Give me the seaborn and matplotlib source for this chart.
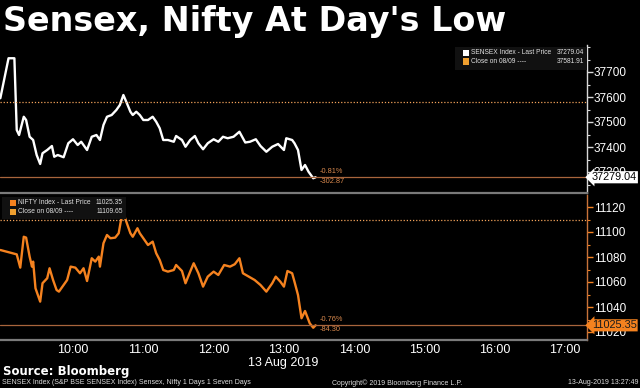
import matplotlib
matplotlib.use("Agg")
import matplotlib.pyplot as plt
import matplotlib.transforms as mtransforms
from matplotlib.ticker import MultipleLocator, FixedLocator
import seaborn as sns
import pandas as pd

# Sensex intraday
sensex_times = [
    "08:58", "09:05", "09:10", "09:12", "09:14", "09:18", "09:20", "09:23", "09:26", "09:29",
    "09:32", "09:34", "09:38", "09:42", "09:44", "09:47", "09:52", "09:56", "10:00", "10:04",
    "10:07", "10:12", "10:16", "10:20", "10:23", "10:26", "10:29", "10:33", "10:37", "10:40",
    "10:43", "10:46", "10:49", "10:51", "10:54", "10:57", "11:00", "11:04", "11:08", "11:11",
    "11:14", "11:17", "11:21", "11:26", "11:28", "11:33", "11:36", "11:40", "11:44", "11:47",
    "11:51", "11:55", "12:00", "12:04", "12:08", "12:12", "12:17", "12:22", "12:27", "12:31",
    "12:36", "12:40", "12:45", "12:50", "12:55", "13:00", "13:02", "13:07", "13:09", "13:12",
    "13:15", "13:18", "13:21", "13:25", "13:27",
]
sensex_values = [
    37595, 37755, 37755, 37468, 37448, 37521, 37508, 37441, 37428, 37368,
    37332, 37375, 37388, 37404, 37361, 37368, 37359, 37415, 37431, 37408,
    37421, 37388, 37441, 37448, 37428, 37488, 37521, 37528, 37548, 37568,
    37608, 37575, 37541, 37528, 37541, 37528, 37508, 37508, 37521, 37501,
    37475, 37428, 37428, 37421, 37444, 37428, 37401, 37428, 37444, 37415,
    37391, 37415, 37431, 37421, 37441, 37435, 37441, 37461, 37418, 37421,
    37431, 37404, 37381, 37401, 37412, 37388, 37435, 37428, 37415, 37388,
    37308, 37328, 37301, 37275, 37279.04,
]
sensex_last = 37279.04
sensex_prev_close = 37581.91
sensex_chg = ["-0.81%", "-302.87"]

# Nifty intraday
nifty_times = [
    "08:58", "09:12", "09:15", "09:18", "09:20", "09:23", "09:25", "09:26", "09:28", "09:32",
    "09:34", "09:38", "09:40", "09:43", "09:46", "09:48", "09:52", "09:55", "09:58", "10:02",
    "10:06", "10:09", "10:12", "10:16", "10:19", "10:22", "10:23", "10:26", "10:29", "10:32",
    "10:36", "10:39", "10:41", "10:43", "10:45", "10:49", "10:51", "10:55", "10:57", "11:00",
    "11:04", "11:08", "11:11", "11:14", "11:17", "11:21", "11:26", "11:28", "11:33", "11:36",
    "11:40", "11:43", "11:47", "11:51", "11:55", "12:00", "12:04", "12:09", "12:14", "12:18",
    "12:22", "12:25", "12:30", "12:35", "12:40", "12:45", "12:50", "12:53", "12:57", "13:00",
    "13:03", "13:07", "13:09", "13:12", "13:15", "13:18", "13:22", "13:25", "13:27",
]
nifty_values = [
    11085.6, 11082.1, 11071.5, 11096.2, 11095.5, 11080.3, 11072.3, 11076.3, 11055.0, 11044.3,
    11059.0, 11063.0, 11071.0, 11061.6, 11053.6, 11052.3, 11057.6, 11061.6, 11072.3, 11071.5,
    11067.0, 11071.0, 11060.8, 11079.0, 11076.3, 11080.3, 11072.3, 11091.0, 11097.6, 11095.0,
    11095.5, 11099.0, 11109.6, 11115.0, 11109.6, 11099.0, 11096.2, 11103.0, 11099.0, 11095.0,
    11089.6, 11092.3, 11083.0, 11077.6, 11069.6, 11068.3, 11069.6, 11073.6, 11068.8, 11059.0,
    11068.3, 11075.0, 11067.0, 11056.3, 11064.3, 11068.3, 11065.6, 11073.6, 11072.3, 11074.2,
    11079.0, 11067.0, 11064.3, 11061.6, 11057.6, 11052.3, 11059.0, 11064.3, 11060.2, 11056.3,
    11068.8, 11067.0, 11060.2, 11049.6, 11031.0, 11036.8, 11027.0, 11023.4, 11025.35,
]
nifty_last = 11025.35
nifty_prev_close = 11109.65
nifty_chg = ["-0.76%", "-84.30"]

hour_ticks = [10, 11, 12, 13, 14, 15, 16, 17]
hour_labels = ["10:00", "11:00", "12:00", "13:00", "14:00", "15:00", "16:00", "17:00"]


def to_hours(times):
    return pd.to_timedelta([t + ":00" for t in times]) / pd.Timedelta(hours=1)


sensex_df = pd.DataFrame({"hour": to_hours(sensex_times), "price": sensex_values})
nifty_df = pd.DataFrame({"hour": to_hours(nifty_times), "price": nifty_values})

sns.set_style("dark", {"axes.facecolor": "black", "figure.facecolor": "black"})
plt.rcParams["font.family"] = ["Liberation Sans", "DejaVu Sans"]

W, H = 640, 388
fig = plt.figure(figsize=(W / 100, H / 100), dpi=100, facecolor="black")
ax1 = fig.add_axes([0, 1 - 193 / H, 587 / W, (193 - 45) / H])
ax2 = fig.add_axes([0, 1 - 340 / H, 587 / W, (340 - 195) / H])

XMIN, XMAX = 8.962, 17.31
ORANGE = "#f5821f"
LAST_LINE = "#a8653c"
PREV_LINE = "#f2a25a"


def style_axis(ax, spine_color, tick_color):
    ax.set_facecolor("black")
    ax.grid(False)
    for s in ["left", "top"]:
        ax.spines[s].set_visible(False)
    ax.spines["right"].set_color(spine_color)
    ax.spines["right"].set_linewidth(1.0)
    ax.spines["bottom"].set_color("#7a7a7a")
    ax.spines["bottom"].set_linewidth(1.6)
    ax.yaxis.tick_right()
    ax.tick_params(axis="y", which="major", colors=tick_color, labelcolor="white",
                   length=4, width=1, labelsize=8.5, pad=1, direction="out")
    ax.tick_params(axis="y", which="minor", colors=tick_color, length=2, width=0.8)
    ax.set_xlim(XMIN, XMAX)
    ax.set_xlabel("")
    ax.set_ylabel("")


# --- Sensex panel ---
sns.lineplot(data=sensex_df, x="hour", y="price", ax=ax1, color="white", linewidth=1.7)
ax1.axhline(sensex_prev_close, color=PREV_LINE, linestyle=(0, (1, 1.5)), linewidth=0.9)
ax1.axhline(sensex_last, color=LAST_LINE, linewidth=0.9)
ax1.set_ylim(37216, 37808)
ax1.yaxis.set_major_locator(FixedLocator([37300, 37400, 37500, 37600, 37700]))
ax1.yaxis.set_minor_locator(MultipleLocator(50))
style_axis(ax1, "#d8d8d8", "#d8d8d8")
ax1.set_xticks([])

# --- Nifty panel ---
sns.lineplot(data=nifty_df, x="hour", y="price", ax=ax2, color=ORANGE, linewidth=1.7)
ax2.axhline(nifty_prev_close, color=PREV_LINE, linestyle=(0, (1, 1.5)), linewidth=0.9)
ax2.axhline(nifty_last, color=LAST_LINE, linewidth=0.9)
ax2.set_ylim(11013.6, 11129.6)
ax2.yaxis.set_major_locator(FixedLocator([11020, 11040, 11060, 11080, 11100, 11120]))
ax2.yaxis.set_minor_locator(MultipleLocator(10))
style_axis(ax2, "#c9733a", ORANGE)
ax2.set_xticks(hour_ticks)
ax2.set_xticklabels(hour_labels)
ax2.xaxis.set_minor_locator(MultipleLocator(0.5))
ax2.tick_params(axis="x", which="major", length=0, labelsize=9, labelcolor="white", pad=3)
ax2.tick_params(axis="x", which="minor", length=2, color="#bbbbbb", direction="in")

# last price tags on the right (they sit over the lowest tick label, as in the original)
for ax, val, fc, tc in [(ax1, sensex_last, "white", "black"), (ax2, nifty_last, ORANGE, "#1a1a1a")]:
    tr = mtransforms.blended_transform_factory(ax.transAxes, ax.transData)
    ax.text(1.008, val, f"{val:.2f}", transform=tr, ha="left", va="center",
            fontsize=7.8, color=tc, zorder=10, clip_on=False,
            bbox=dict(boxstyle="larrow,pad=0.1", fc=fc, ec="none"))

# change annotations at the end of each line
for ax, df, chg in [(ax1, sensex_df, sensex_chg), (ax2, nifty_df, nifty_chg)]:
    x_end = df["hour"].iloc[-1]
    y_end = df["price"].iloc[-1]
    ax.annotate(chg[0], (x_end, y_end), xytext=(3, 4), textcoords="offset points",
                fontsize=5.3, color="#d9894e", va="center")
    ax.annotate(chg[1], (x_end, y_end), xytext=(3, -3), textcoords="offset points",
                fontsize=5.3, color="#d9894e", va="center")


def px(x, y):
    return x / W, 1 - y / H


# legend boxes
def legend_box(x0, y0, x1, y1, rows, swatches):
    fig.patches.append(plt.Rectangle(px(x0, y1), (x1 - x0) / W, (y1 - y0) / H,
                                     transform=fig.transFigure, fc="#111111", ec="none", zorder=5))
    for i, ((label, value), sw) in enumerate(zip(rows, swatches)):
        yy = y0 + 6 + i * 8.5
        fig.patches.append(plt.Rectangle(px(x0 + 8, yy + 3), 6 / W, 6 / H,
                                         transform=fig.transFigure, fc=sw, ec="none", zorder=6))
        fig.text(*px(x0 + 16, yy), label, fontsize=4.8, color="#e0e0e0", va="center", zorder=7)
        fig.text(*px(x1 - 3, yy), value, fontsize=4.8, color="#e0e0e0", va="center",
                 ha="right", zorder=7)


legend_box(455, 47, 587, 70,
           [("SENSEX Index - Last Price", f"{sensex_last:.2f}"),
            ("Close on 08/09 ----", f"{sensex_prev_close:.2f}")],
           ["white", "#f0a030"])
legend_box(2, 197, 126, 219,
           [("NIFTY Index - Last Price", f"{nifty_last:.2f}"),
            ("Close on 08/09 ----", f"{nifty_prev_close:.2f}")],
           [ORANGE, "#f0a030"])

# title and footer
fig.text(*px(3, 22), "Sensex, Nifty At Day's Low", fontsize=24, fontweight="bold",
         color="white", va="center", family="DejaVu Sans")
fig.text(*px(283, 363), "13 Aug 2019", fontsize=9, color="white", ha="center", va="center")
fig.text(*px(3, 372), "Source: Bloomberg", fontsize=8.5, fontweight="bold", color="white",
         va="center", family="DejaVu Sans")
fig.text(*px(2, 383), "SENSEX Index (S&P BSE SENSEX Index) Sensex, Nifty 1 Days 1 Seven Days",
         fontsize=5, color="#dddddd", va="center")
fig.text(*px(397, 383), "Copyright\u00a9 2019 Bloomberg Finance L.P.", fontsize=5,
         color="#dddddd", va="center", ha="center")
fig.text(*px(638, 383), "13-Aug-2019 13:27:49", fontsize=5, color="#dddddd",
         va="center", ha="right")

fig.savefig("out.png", dpi=100, facecolor="black")
